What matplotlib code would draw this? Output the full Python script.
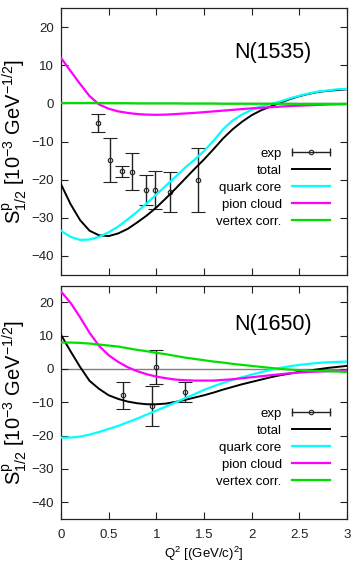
import matplotlib
matplotlib.use("Agg")
import matplotlib.pyplot as plt
from matplotlib.lines import Line2D
from matplotlib.legend_handler import HandlerLine2D, HandlerTuple

plt.rcParams['font.family'] = ['Liberation Sans', 'DejaVu Sans']
plt.rcParams['mathtext.fontset'] = 'custom'
plt.rcParams['mathtext.rm'] = 'Liberation Sans'
plt.rcParams['mathtext.it'] = 'Liberation Sans:italic'

# Q^2 grid, (GeV/c)^2
q2 = [0.0, 0.1, 0.2, 0.3, 0.4, 0.5, 0.6, 0.7, 0.8, 0.9, 1.0,
      1.1, 1.2, 1.3, 1.4, 1.5, 1.6, 1.7, 1.8, 1.9, 2.0,
      2.1, 2.2, 2.3, 2.4, 2.5, 2.6, 2.7, 2.8, 2.9, 3.0]

# N(1535) S1/2 contributions
s1535_total = [-21.2, -26.4, -30.6, -33.4, -34.6, -34.8, -34.1, -32.9, -31.2, -29.4, -27.3,
               -24.9, -22.4, -19.8, -17.2, -14.7, -12.0, -9.2, -6.8, -4.8, -3.1,
               -1.8, -0.8, 0.2, 1.1, 1.9, 2.5, 3.0, 3.3, 3.5, 3.7]
s1535_quark = [-33.4, -35.0, -35.8, -35.7, -35.0, -33.8, -32.3, -30.4, -28.4, -26.2, -23.9,
               -21.6, -19.3, -16.9, -14.8, -12.5, -9.8, -6.8, -4.5, -2.9, -1.7,
               -0.8, -0.2, 0.5, 1.3, 2.0, 2.6, 3.1, 3.4, 3.7, 3.8]
s1535_pion = [11.9, 8.5, 5.1, 1.9, -0.3, -1.4, -2.1, -2.5, -2.8, -2.95, -3.0,
              -2.95, -2.8, -2.65, -2.5, -2.3, -2.1, -1.9, -1.7, -1.5, -1.3,
              -1.15, -1.0, -0.85, -0.7, -0.6, -0.5, -0.4, -0.3, -0.25, -0.2]
s1535_vertex = [0.1, 0.1, 0.1, 0.1, 0.1, 0.05, 0.05, 0.05, 0.0, 0.0, 0.0,
                0.0, 0.0, -0.05, -0.05, -0.05, -0.05, -0.1, -0.1, -0.1, -0.1,
                -0.1, -0.1, -0.1, -0.1, -0.15, -0.15, -0.15, -0.15, -0.15, -0.15]

# N(1650) S1/2 contributions
s1650_total = [10.2, 5.3, 0.6, -3.6, -6.0, -7.9, -9.0, -9.8, -10.3, -10.6, -10.6,
               -10.4, -9.9, -9.3, -8.6, -7.9, -7.1, -6.2, -5.4, -4.6, -3.9,
               -3.2, -2.5, -1.9, -1.4, -0.9, -0.5, -0.1, 0.3, 0.6, 0.9]
s1650_quark = [-20.6, -20.6, -20.3, -19.7, -18.9, -18.0, -17.1, -16.0, -14.9, -13.7, -12.5,
               -11.3, -10.1, -8.8, -7.6, -6.3, -5.2, -4.2, -3.3, -2.5, -1.7,
               -1.0, -0.3, 0.3, 0.8, 1.2, 1.5, 1.8, 2.0, 2.1, 2.2]
s1650_pion = [23.2, 19.8, 15.5, 10.8, 6.9, 4.1, 2.1, 0.5, -0.7, -1.6, -2.3,
              -2.8, -3.2, -3.4, -3.5, -3.5, -3.5, -3.3, -3.1, -2.8, -2.5,
              -2.2, -1.9, -1.6, -1.3, -1.1, -0.9, -0.8, -0.7, -0.6, -0.5]
s1650_vertex = [7.9, 7.9, 7.8, 7.6, 7.3, 7.0, 6.7, 6.2, 5.7, 5.3, 4.8,
                4.4, 3.9, 3.4, 3.0, 2.6, 2.2, 1.9, 1.5, 1.2, 0.9,
                0.6, 0.3, 0.0, -0.2, -0.4, -0.5, -0.6, -0.7, -0.8, -0.9]

# experimental points
exp1535_q2 = [0.39, 0.51, 0.64, 0.74, 0.89, 0.99, 1.14, 1.44]
exp1535_s = [-5.2, -14.9, -17.8, -17.9, -22.7, -22.7, -23.2, -20.0]
exp1535_err = [2.3, 5.7, 1.5, 4.8, 4.0, 5.0, 5.2, 8.4]

exp1650_q2 = [0.65, 0.95, 1.0, 1.3]
exp1650_s = [-7.9, -11.0, 0.6, -7.0]
exp1650_err = [4.0, 6.0, 5.2, 3.0]

panels = [
    ("N(1535)", s1535_total, s1535_quark, s1535_pion, s1535_vertex,
     exp1535_q2, exp1535_s, exp1535_err),
    ("N(1650)", s1650_total, s1650_quark, s1650_pion, s1650_vertex,
     exp1650_q2, exp1650_s, exp1650_err),
]

fig = plt.figure(figsize=(3.53, 5.69), dpi=100)
ax_top = fig.add_axes([0.1728, 0.5167, 0.8102, 0.4692])
ax_bot = fig.add_axes([0.1728, 0.0879, 0.8102, 0.4103])

ylab = r'$\mathrm{S^p_{1/2}}$ [10$^{-3}$ GeV$^{-1/2}$]'

for ax, (name, tot, qc, pc, vc, ex, ey, ee) in zip([ax_top, ax_bot], panels):
    ax.axhline(0, color='#808080', lw=1.0, zorder=1)
    ax.errorbar(ex, ey, yerr=ee, fmt='o', ms=3.2, mfc='none', mec='#222222',
                mew=0.8, ecolor='#222222', elinewidth=1.0, capsize=5,
                capthick=1.0, zorder=3)
    ax.plot(q2, tot, color='black', lw=1.4, zorder=4)
    ax.plot(q2, qc, color='#00ffff', lw=1.6, zorder=4)
    ax.plot(q2, pc, color='#ff00ff', lw=1.6, zorder=4)
    ax.plot(q2, vc, color='#00e000', lw=1.6, zorder=4)

    ax.set_xlim(0, 3)
    ax.set_ylim(-45, 25)
    ax.set_yticks([-40, -30, -20, -10, 0, 10, 20])
    ax.set_xticks([0, 0.5, 1, 1.5, 2, 2.5, 3])
    ax.set_xticklabels(['0', '0.5', '1', '1.5', '2', '2.5', '3'])
    ax.tick_params(direction='in', length=5, width=0.8, top=True, right=True,
                   labelsize=9.5, colors='#222222', pad=5)
    ax.tick_params(axis='x', pad=7)
    for sp in ax.spines.values():
        sp.set_linewidth(0.9)
        sp.set_color('#222222')
    ax.set_ylabel(ylab, fontsize=14.5, labelpad=2)
    ax.text(0.74, 0.835, name, transform=ax.transAxes, fontsize=15.5,
            ha='center', va='center')

    # legend, text on the left of each sample
    caps = Line2D([], [], color='#222222', lw=1.0, marker='|', ms=6, mew=1.0)
    circ = Line2D([], [], ls='none', marker='o', ms=3.2, mfc='none',
                  mec='#222222', mew=0.8)
    handles = [(caps, circ),
               Line2D([], [], color='black', lw=1.4),
               Line2D([], [], color='#00ffff', lw=1.6),
               Line2D([], [], color='#ff00ff', lw=1.6),
               Line2D([], [], color='#00e000', lw=1.6)]
    labels = ['exp', 'total', 'quark core', 'pion cloud', 'vertex corr.']
    ax.legend(handles, labels, loc='upper right', bbox_to_anchor=(0.94, 0.477),
              frameon=False, markerfirst=False, fontsize=9.5, borderpad=0,
              borderaxespad=0, handlelength=2.9, handletextpad=0.75,
              labelspacing=0.36,
              handler_map={tuple: HandlerTuple(ndivide=1),
                           caps: HandlerLine2D(numpoints=2, marker_pad=0),
                           circ: HandlerLine2D(numpoints=1)})

ax_top.tick_params(labelbottom=False)
ax_bot.set_xlabel(r'Q$^2$ [(GeV/c)$^2$]', fontsize=9.5, labelpad=3)

fig.savefig('out.png', dpi=100)
